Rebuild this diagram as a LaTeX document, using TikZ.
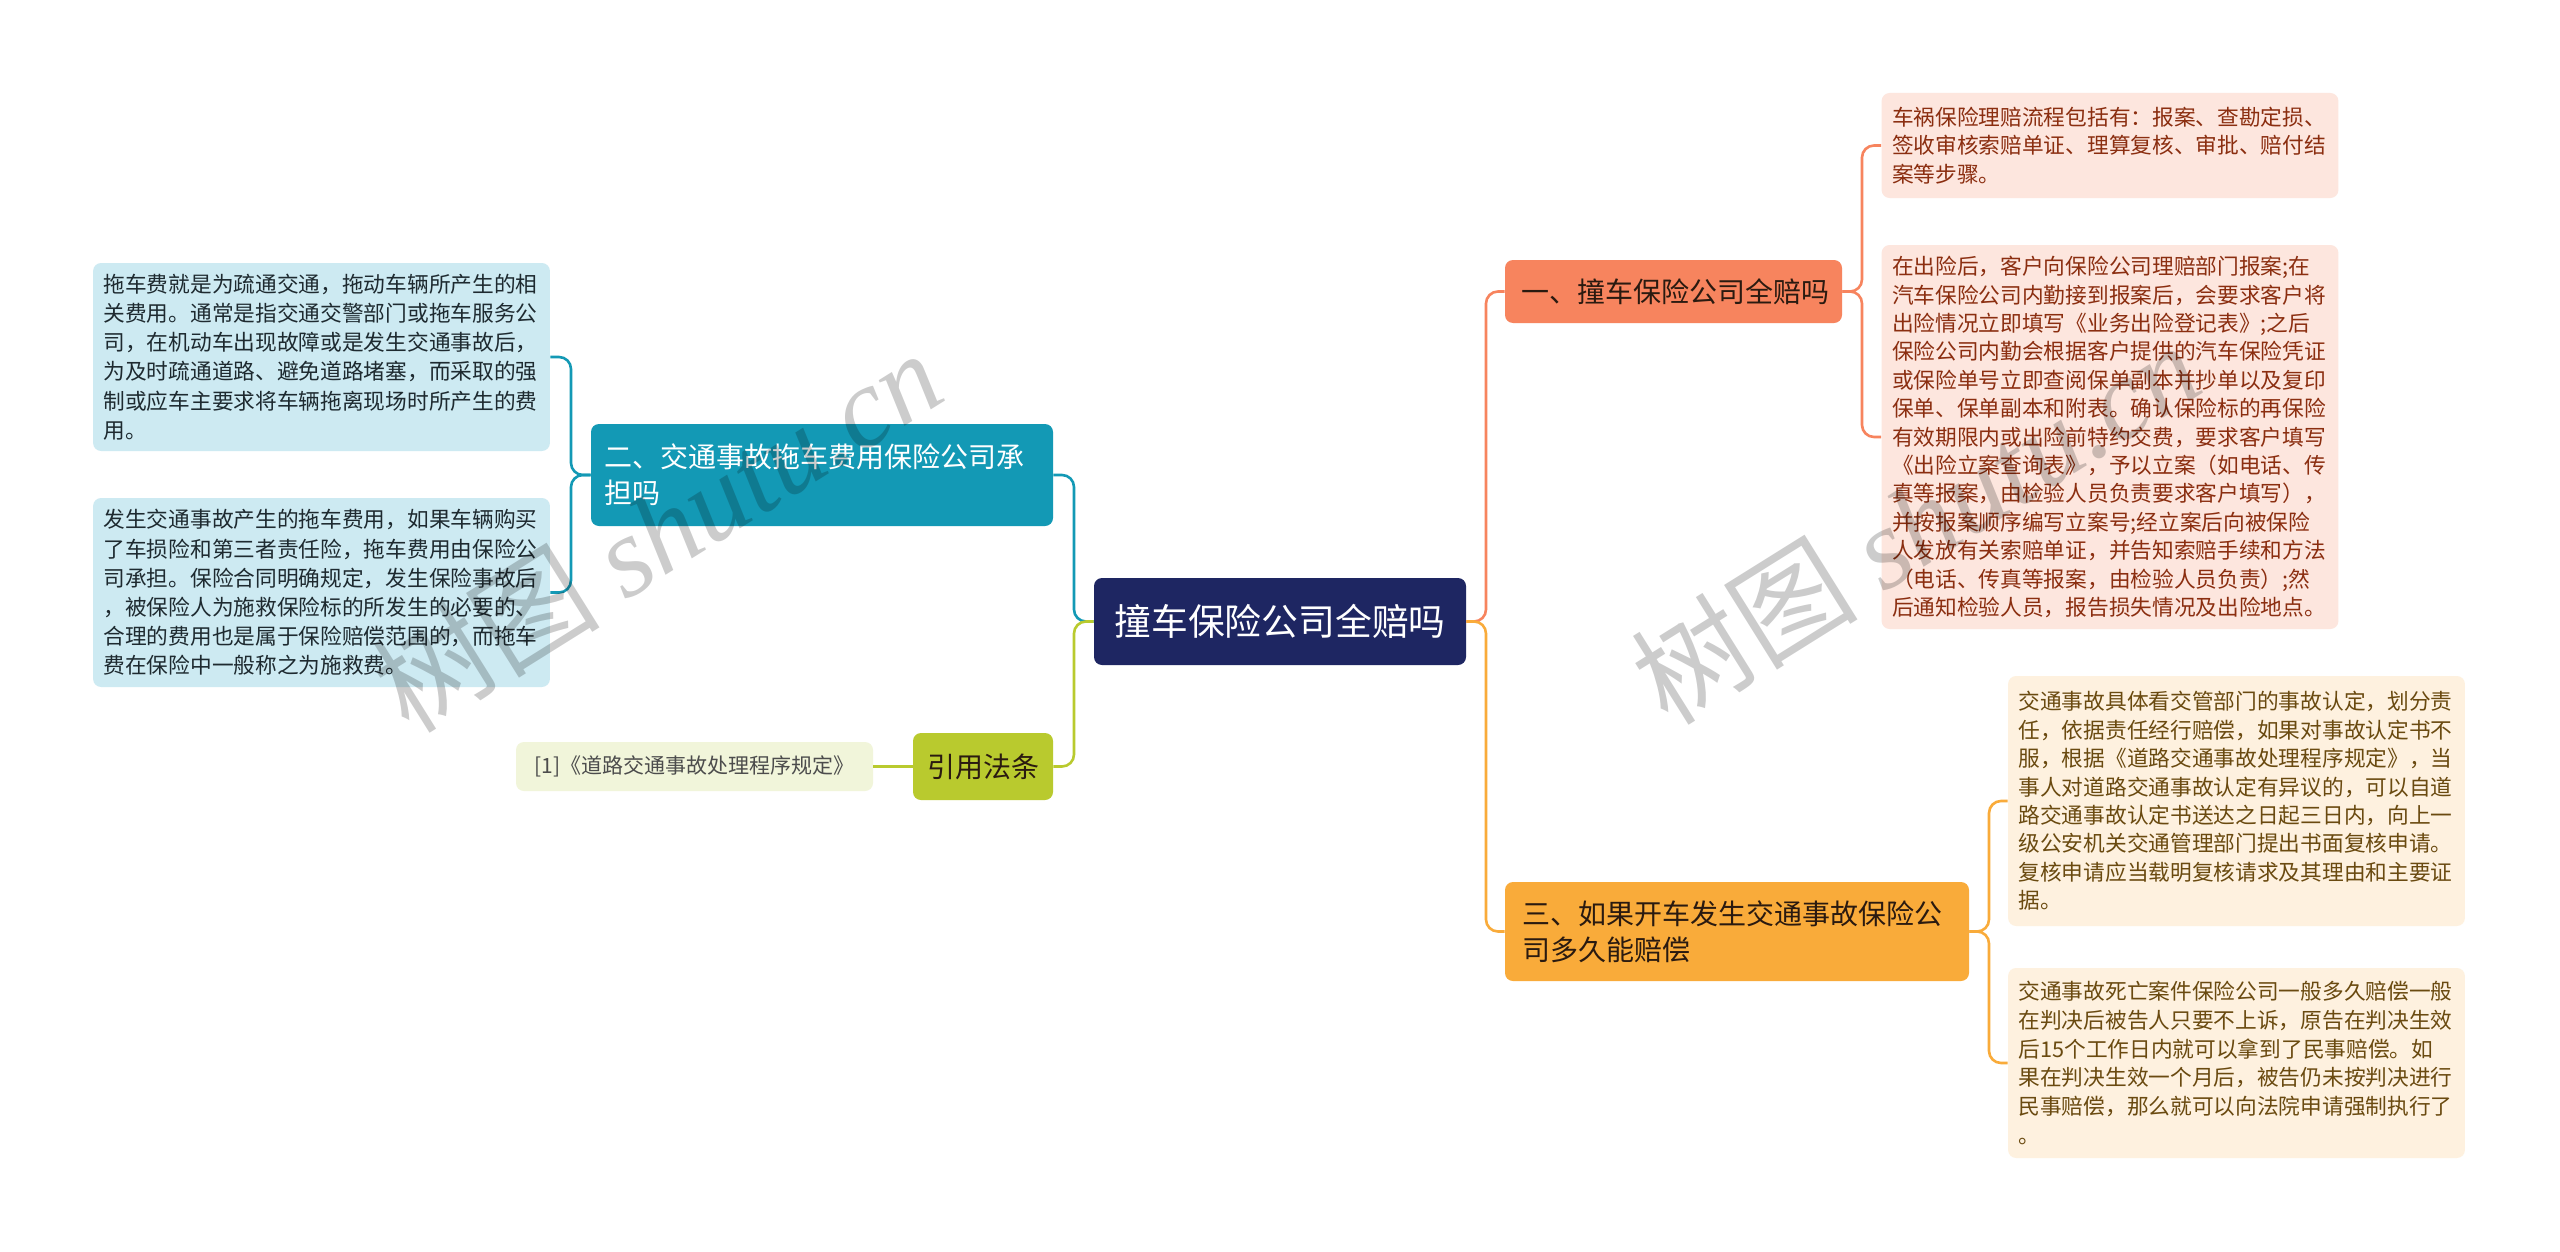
\documentclass[tikz,border=0pt]{standalone}
\usepackage{fontspec}
\setmainfont{Noto Sans CJK SC}
\newfontfamily\wmfont{Liberation Serif}
\definecolor{rootc}{HTML}{1E2662}
\definecolor{onec}{HTML}{F7845E}
\definecolor{onel}{HTML}{FDE6DE}
\definecolor{onet}{HTML}{8B2E10}
\definecolor{threec}{HTML}{F9AB3A}
\definecolor{threel}{HTML}{FEF1DF}
\definecolor{threet}{HTML}{6A4A10}
\definecolor{twoc}{HTML}{1399B5}
\definecolor{twol}{HTML}{CDEAF2}
\definecolor{twot}{HTML}{1E2A30}
\definecolor{refc}{HTML}{B9CA2E}
\definecolor{refl}{HTML}{F1F5DA}
\definecolor{darkt}{HTML}{2A1A10}
\tikzset{
  box/.style={rounded corners=4pt, inner ysep=0pt},
  leafbox/.style={box, text width=218pt, inner xsep=5.2pt, align=left,
    font=\fontsize{10.85pt}{14.4pt}\selectfont},
  branchbox/.style={box, align=left, font=\fontsize{14pt}{18pt}\selectfont},
  conn/.style={line width=1.3pt, rounded corners=6pt},
  wmark/.style={rotate=32, text=black, text opacity=0.2, inner sep=0pt,
    font=\fontsize{57pt}{57pt}\selectfont},
}
\begin{document}
\begin{tikzpicture}[x=0.5pt,y=-0.5pt]
\useasboundingbox (0,0) rectangle (2560,1252);
\fill[white] (0,0) rectangle (2560,1252);

% root
\node[box, fill=rootc, text=white, minimum width=186pt, minimum height=43.5pt,
  font=\fontsize{18.4pt}{22pt}\selectfont] (root) at (1280,621.5) {撞车保险公司全赔吗};

% branch one
\node[branchbox, fill=onec, text=darkt, text width=152pt, inner xsep=8.25pt,
  minimum height=31.5pt] (b1) at (1673.5,291.5) {一、撞车保险公司全赔吗};
\node[leafbox, fill=onel, text=onet, minimum height=52.5pt] (l1a) at (2110,145.5)
 {车祸保险理赔流程包括有：报案、查勘定损、\\签收审核索赔单证、理算复核、审批、赔付结\\案等步骤。};
\node[leafbox, fill=onel, text=onet, minimum height=192pt,
  font=\fontsize{10.85pt}{14.2pt}\selectfont] (l1b) at (2110,437)
 {在出险后，客户向保险公司理赔部门报案;在\\汽车保险公司内勤接到报案后，会要求客户将\\出险情况立即填写《业务出险登记表》;之后\\保险公司内勤会根据客户提供的汽车保险凭证\\或保险单号立即查阅保单副本并抄单以及复印\\保单、保单副本和附表。确认保险标的再保险\\有效期限内或出险前特约交费，要求客户填写\\《出险立案查询表》，予以立案（如电话、传\\真等报案，由检验人员负责要求客户填写），\\并按报案顺序编写立案号;经立案后向被保险\\人发放有关索赔单证，并告知索赔手续和方法\\（电话、传真等报案，由检验人员负责）;然\\后通知检验人员，报告损失情况及出险地点。};

% branch three
\node[branchbox, fill=threec, text=darkt, text width=215pt, inner xsep=8.5pt,
  minimum height=49.5pt] (b3) at (1737,931.5) {三、如果开车发生交通事故保险公\\司多久能赔偿};
\node[leafbox, fill=threel, text=threet, minimum height=125pt,
  font=\fontsize{10.85pt}{14.2pt}\selectfont] (l3a) at (2236.5,801)
 {交通事故具体看交管部门的事故认定，划分责\\任，依据责任经行赔偿，如果对事故认定书不\\服，根据《道路交通事故处理程序规定》，当\\事人对道路交通事故认定有异议的，可以自道\\路交通事故认定书送达之日起三日内，向上一\\级公安机关交通管理部门提出书面复核申请。\\复核申请应当载明复核请求及其理由和主要证\\据。};
\node[leafbox, fill=threel, text=threet, minimum height=95pt,
  font=\fontsize{10.85pt}{14.4pt}\selectfont] (l3b) at (2236.5,1063)
 {交通事故死亡案件保险公司一般多久赔偿一般\\在判决后被告人只要不上诉，原告在判决生效\\后15个工作日内就可以拿到了民事赔偿。如\\果在判决生效一个月后，被告仍未按判决进行\\民事赔偿，那么就可以向法院申请强制执行了\\。};

% branch two
\node[branchbox, fill=twoc, text=white, text width=218pt, inner xsep=6.5pt,
  minimum height=51pt] (b2) at (822,475) {二、交通事故拖车费用保险公司承\\担吗};
\node[leafbox, fill=twol, text=twot, minimum height=94pt,
  font=\fontsize{10.85pt}{14.6pt}\selectfont] (l2a) at (321.5,357)
 {拖车费就是为疏通交通，拖动车辆所产生的相\\关费用。通常是指交通交警部门或拖车服务公\\司，在机动车出现故障或是发生交通事故后，\\为及时疏通道路、避免道路堵塞，而采取的强\\制或应车主要求将车辆拖离现场时所产生的费\\用。};
\node[leafbox, fill=twol, text=twot, minimum height=94.5pt,
  font=\fontsize{10.85pt}{14.6pt}\selectfont] (l2b) at (321.5,592.5)
 {发生交通事故产生的拖车费用，如果车辆购买\\了车损险和第三者责任险，拖车费用由保险公\\司承担。保险合同明确规定，发生保险事故后\\，被保险人为施救保险标的所发生的必要的、\\合理的费用也是属于保险赔偿范围的，而拖车\\费在保险中一般称之为施救费。};

% references
\node[box, fill=refc, text=darkt, minimum width=70pt, minimum height=33.5pt,
  font=\fontsize{14pt}{18pt}\selectfont] (yf) at (983,766.5) {引用法条};
\node[box, fill=refl, text=black!70, minimum width=178.5pt, minimum height=24.5pt,
  font=\fontsize{10.5pt}{13pt}\selectfont] (ref) at (694.5,766.5) {[1]《道路交通事故处理程序规定》};

% junction coordinates
\coordinate (jr) at (1486,621.5);
\coordinate (jl) at (1074,621.5);
\coordinate (j1) at (1862,291.5);
\coordinate (j3) at (1989,931.5);
\coordinate (j2) at (571,475);

% connectors
\draw[conn, onec] (root.east) -- (jr) |- (b1.west);
\draw[conn, threec] (root.east) -- (jr) |- (b3.west);
\draw[conn, onec] (b1.east) -- (j1) |- (l1a.west);
\draw[conn, onec] (b1.east) -- (j1) |- (l1b.west);
\draw[conn, threec] (b3.east) -- (j3) |- (l3a.west);
\draw[conn, threec] (b3.east) -- (j3) |- (l3b.west);
\draw[conn, twoc] (root.west) -- (jl) |- (b2.east);
\draw[conn, refc] (root.west) -- (jl) |- (yf.east);
\draw[conn, twoc] (b2.west) -- (j2) |- (l2a.east);
\draw[conn, twoc] (b2.west) -- (j2) |- (l2b.east);
\draw[conn, refc] (yf.west) -- (ref.east);

% watermarks
\node[wmark] (wm1) at (657,530) {树图 {\wmfont\itshape shutu.cn}};
\node[wmark] (wm2) at (1915,522) {树图 {\wmfont\itshape shutu.cn}};
\end{tikzpicture}
\end{document}
